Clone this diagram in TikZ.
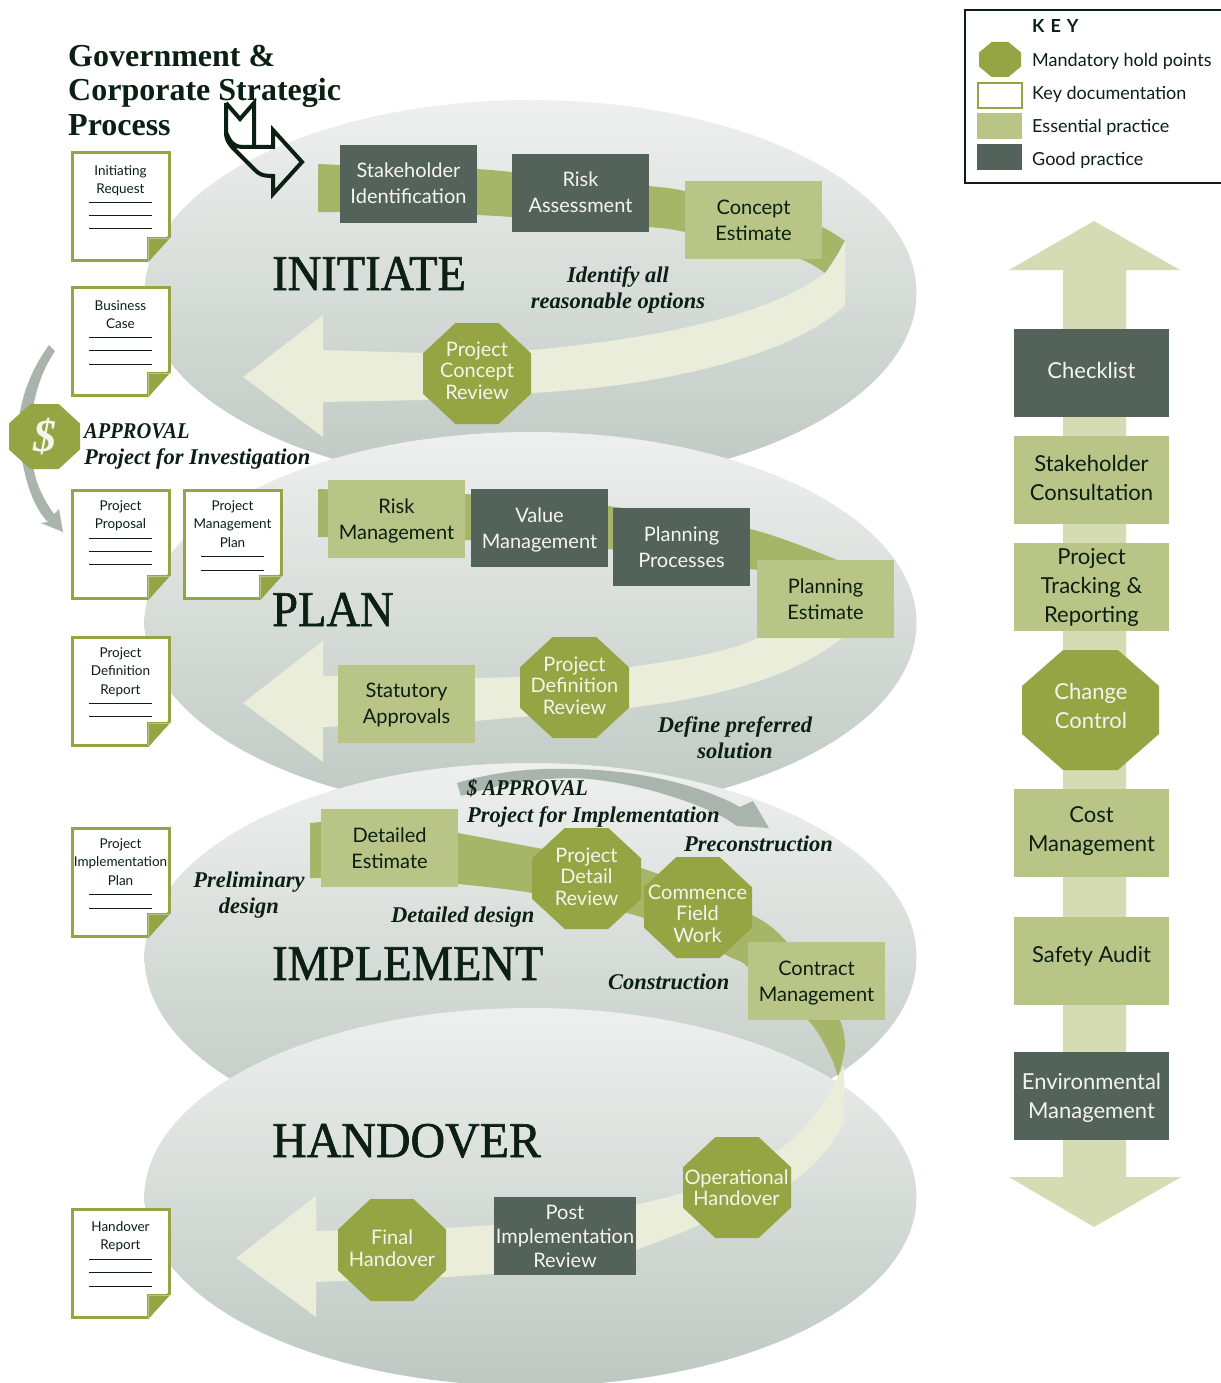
\documentclass[tikz,border=0pt]{standalone}
\usepackage{fontspec}
\setmainfont{Liberation Serif}
\newfontfamily\lato{Lato}
\newfontfamily\headfont[FakeBold=1.2,FakeStretch=0.93]{Liberation Serif}
\newfontfamily\capsfont[FakeStretch=0.91]{Liberation Serif}
\usetikzlibrary{shapes.geometric}
\definecolor{ink}{HTML}{0B1F12}
\definecolor{slate}{HTML}{54635A}
\definecolor{sage}{HTML}{B9C487}
\definecolor{olive}{HTML}{95A544}
\definecolor{ribbon}{HTML}{A6B568}
\definecolor{pale}{HTML}{E9EDDA}
\definecolor{stem}{HTML}{D5DBB3}
\definecolor{cream}{HTML}{F4F5EC}
\definecolor{ellT}{HTML}{EEF0EF}
\definecolor{ellB}{HTML}{BEC8C2}
\definecolor{steel}{HTML}{A9B4AD}
\tikzset{
  dark/.style={fill=slate,text=cream},
  light/.style={fill=sage,text=ink},
  small/.style={font=\lato\fontsize{20}{26}\selectfont},
  big/.style={font=\lato\fontsize{22}{29}\selectfont},
  octtext/.style={font=\lato\fontsize{20}{21.5}\selectfont,text=cream,align=center,inner sep=0pt},
  doctext/.style={font=\lato\fontsize{13.5}{18.3}\selectfont,text=ink,align=center,inner sep=0pt,anchor=north},
  heading/.style={font=\headfont\fontsize{50}{50}\selectfont,text=ink,anchor=base west,inner sep=0pt},
  note/.style={font=\bfseries\itshape\fontsize{22.5}{26}\selectfont,text=ink,inner sep=0pt,align=center},
  keytext/.style={font=\lato\fontsize{18}{22}\selectfont,text=ink,anchor=base west,inner sep=0pt},
  ell/.style={top color=ellT,bottom color=ellB,draw=none},
}
% [text shift], name, x1, y1, x2, y2, style+size, text
\newcommand{\rbox}[8][]{\path[#7] (#3,#4) rectangle (#5,#6);
  \node[#7,fill=none,inner sep=0pt,outer sep=0pt,align=center,#1] (#2) at ({(#3+#5)/2},{(#4+#6)/2}) {#8};}
% name, x1, y1, x2, y2, font extra, text
\newcommand{\octa}[7]{\fill[olive] ({#2+0.3*(#4-#2)},#3) -- ({#4-0.3*(#4-#2)},#3) -- (#4,{#3+0.3*(#5-#3)}) -- (#4,{#5-0.3*(#5-#3)})
  -- ({#4-0.3*(#4-#2)},#5) -- ({#2+0.3*(#4-#2)},#5) -- (#2,{#5-0.3*(#5-#3)}) -- (#2,{#3+0.3*(#5-#3)}) -- cycle;
  \node[octtext,#6] (#1) at ({(#2+#4)/2},{(#3+#5)/2}) {#7};}
% [text shift], name, x, y, text, rule offsets
\newcommand{\docu}[6][]{
  \filldraw[draw=olive,fill=white,line width=2.6pt] (#3+1.5,#4+1.5) -- (#3+98.5,#4+1.5) -- (#3+98.5,#4+85) -- (#3+77,#4+109.5) -- (#3+1.5,#4+109.5) -- cycle;
  \fill[olive] (#3+76,#4+86) -- (#3+100,#4+86) -- (#3+77,#4+111) -- (#3+76,#4+111) -- cycle;
  \draw[sage,line width=1pt] (#3+77,#4+110) -- (#3+77,#4+87) -- (#3+99,#4+87);
  \node[doctext,#1] (#2) at (#3+49.5,#4+12.5) {#5};
  \foreach \r in {#6} {\draw[ink,line width=0.8pt] (#3+18,#4+\r) -- (#3+81,#4+\r);}
}
\begin{document}
\begin{tikzpicture}[x=1pt,y=-1pt]
\useasboundingbox (0,0) rectangle (1220,1383);
\fill[white] (0,0) rectangle (1220,1383);

% ---------- INITIATE
\path[ell] (530.5,293) ellipse [x radius=386,y radius=193];
\fill[ribbon] (318,164) -- (340,165) -- plot[smooth] coordinates {(477,169) (512,172) (649,186) (685,191) (780,212) (822,227) (845,241)}
  -- (837,255) -- (825,273) -- plot[smooth] coordinates {(825,273) (800,259) (740,245) (685,232) (649,227) (512,217) (477,215)} -- (340,212) -- (318,212) -- cycle;
\fill[pale] (845,241) -- (845,305) .. controls (800,350) and (680,385) .. (532,393) -- (423,400) -- (323,402) -- (323,437) -- (243,377) -- (323,315) -- (323,350)
  -- (423,353) -- (532,350) .. controls (660,338) and (770,315) .. (825,273) .. controls (835,262) and (840,250) .. (845,241) -- cycle;

% ---------- PLAN
\path[ell] (530.5,623) ellipse [x radius=386,y radius=191];
\fill[ribbon] (318,489) -- (465,494) -- plot[smooth] coordinates {(465,494) (608,506) (750,529) (837,560)} -- (757,570) -- plot[smooth] coordinates {(757,570) (750,569) (608,549) (465,540)} -- (318,537) -- cycle;
\fill[pale] (842,638) .. controls (790,680) and (710,698) .. (629,708) -- (520,717) -- (475,721) -- (323,727) -- (323,762) -- (243,703) -- (323,641) -- (323,676) -- (475,678) -- (520,677) -- (629,667) .. controls (680,660) and (730,652) .. (757,638) -- cycle;

% ---------- IMPLEMENT
\path[ell] (530.5,957) ellipse [x radius=386,y radius=194];
\fill[steel] (457,783) .. controls (500,770) and (540,768) .. (573,769) .. controls (640,770) and (700,785) .. (740,807) -- (753,801) -- (769,828) -- (737,826) -- (725,818) .. controls (680,795) and (620,780) .. (575,778) .. controls (530,778) and (490,787) .. (461,796) -- cycle;

% ---------- HANDOVER
\path[ell] (530.5,1197) ellipse [x radius=386,y radius=189];
\fill[ribbon] (310,823) -- (321,822) -- (321,878) -- (310,878) -- cycle;
\fill[ribbon] (321,825) -- (458,833) -- plot[smooth] coordinates {(458,833) (532,847) (641,868) (752,915) (787,942) (820,985) (840,1020) (845,1047) (838,1077)}
  -- plot[smooth] coordinates {(838,1077) (830,1055) (808,1020)  (748,967) (730,957) (641,917) (532,893) (458,884)} -- (321,878) -- cycle;
\fill[pale] (844,1065) -- (844,1123) .. controls (830,1150) and (810,1170) .. (791,1183) -- (683,1232) -- (636,1250) .. controls (590,1265) and (530,1272) .. (446,1277) -- (316,1282) -- (316,1317) -- (236,1258) -- (316,1196) -- (316,1231) -- (446,1228) -- (494,1225) .. controls (570,1220) and (620,1210) .. (683,1193) -- (779,1150) .. controls (805,1130) and (825,1105) .. (838,1077) -- cycle;

% ---------- approval arrow on the left
\fill[steel] (49,345) .. controls (20,385) and (12,430) .. (23,465) .. controls (28,490) and (36,510) .. (48,522) -- (41,523) -- (63,532) -- (59,509) -- (54,514) .. controls (44,500) and (36,485) .. (33,465) .. controls (27,430) and (32,385) .. (55,351) -- cycle;

% ---------- process boxes
\rbox[yshift=1pt]{a1}{340}{145}{477}{223}{dark,small}{Stakeholder\\Identification}
\rbox[yshift=0.5pt]{a2}{512}{154}{649}{232}{dark,small}{Risk\\Assessment}
\rbox{a3}{685}{181}{822}{259}{light,small}{Concept\\Estimate}
\rbox[yshift=-2pt]{b1}{328}{480}{465}{558}{light,small}{Risk\\Management}
\rbox[yshift=-2pt]{b2}{471}{489}{608}{567}{dark,small}{Value\\Management}
\rbox{b3}{613}{508}{750}{586}{dark,small}{Planning\\Processes}
\rbox{b4}{757}{560}{894}{638}{light,small}{Planning\\Estimate}
\rbox[yshift=-1pt]{b5}{338}{665}{475}{743}{light,small}{Statutory\\Approvals}
\rbox{c1}{321}{809}{458}{887}{light,small}{Detailed\\Estimate}
\rbox[yshift=-2pt]{c2}{748}{942}{885}{1020}{light,small}{Contract\\Management}
\rbox{d1}{494}{1197}{636}{1275}{dark,font=\lato\fontsize{20}{24}\selectfont}{Post\\Implementation\\Review}

\octa{oa}{423}{323}{531}{424}{yshift=3pt}{Project\\Concept\\Review}
\octa{ob}{520}{637}{629}{738}{yshift=2pt}{Project\\Definition\\Review}
\octa{oc}{532}{828}{641}{929}{yshift=2pt}{Project\\Detail\\Review}
\octa{od}{644}{857}{752}{958}{yshift=-6pt,xshift=-0.5pt}{Commence\\Field\\Work}
\octa{oe}{683}{1137}{791}{1238}{xshift=-0.5pt}{Operational\\Handover}
\octa{of}{338}{1199}{446}{1301}{yshift=2pt}{Final\\Handover}
\octa{og}{9}{404}{80}{469}{font=\bfseries\itshape\fontsize{46}{46}\selectfont}{\$}

% ---------- right-hand column
\fill[stem] (1094,221) -- (1180,270) -- (1126,270) -- (1126,1177) -- (1181,1177) -- (1094,1227) -- (1009,1177) -- (1063,1177) -- (1063,270) -- (1009,270) -- cycle;
\rbox[yshift=3pt]{r1}{1014}{329}{1169}{417}{dark,big}{Checklist}
\rbox[yshift=2pt]{r2}{1014}{436}{1169}{524}{light,big}{Stakeholder\\Consultation}
\rbox{r3}{1014}{543}{1169}{631}{light,big}{Project\\Tracking \&\\Reporting}
\octa{r4}{1022}{650}{1159}{770}{font=\lato\fontsize{22}{29}\selectfont,yshift=4pt,xshift=0.5pt}{Change\\Control}
\rbox[yshift=2pt]{r5}{1014}{789}{1169}{877}{light,big}{Cost\\Management}
\rbox[yshift=5pt]{r6}{1014}{917}{1169}{1005}{light,big}{Safety Audit}
\rbox[yshift=-2pt]{r7}{1014}{1052}{1169}{1140}{dark,big}{Environmental\\Management}

% ---------- key
\draw[ink,line width=2pt,fill=white] (965,10) rectangle (1225,183);
\node[keytext,font=\lato\bfseries\fontsize{18}{20}\selectfont] (ktitle) at (1032,33) {K\,\,E\,\,Y};
\octa{k1}{979}{42}{1021}{77}{}{}
\draw[olive,line width=2.4pt,fill=white] (978,83) rectangle (1022,108);
\fill[sage] (977,113) rectangle (1022,139);
\fill[slate] (977,144) rectangle (1022,170);
\node[keytext] (k1t) at (1032,67) {Mandatory hold points};
\node[keytext] (k2t) at (1032,100) {Key documentation};
\node[keytext] (k3t) at (1032,133) {Essential practice};
\node[keytext] (k4t) at (1032,166) {Good practice};

% ---------- documents
\docu[yshift=-1.5pt]{d1a}{71}{151}{Initiating\\Request}{51,64,77}
\docu[yshift=-1.5pt]{d2a}{71}{286}{Business\\Case}{51,64,78}
\docu[yshift=1pt]{d3a}{71}{489}{Project\\Proposal}{49,62,75}
\docu[yshift=1pt]{d4a}{183}{489}{Project\\Management\\Plan}{67,81}
\docu[yshift=1pt]{d5a}{71}{636}{Project\\Definition\\Report}{67,80}
\docu[yshift=1pt]{d6a}{71}{827}{Project\\Implementation\\Plan}{67,81}
\docu[yshift=-1pt]{d7a}{71}{1208}{Handover\\Report}{51,64,78}

% ---------- headings
\node[heading] (h1) at (272,290) {INITIATE};
\node[heading] (h2) at (272,626) {PLAN};
\node[heading] (h3) at (272,980) {IMPLEMENT};
\node[heading,xscale=1.03] (h4) at (272,1157) {HANDOVER};

% ---------- title and notes
\node[font=\bfseries\fontsize{32}{34.5}\selectfont,text=ink,align=left,anchor=north west,inner sep=0pt] (title) at (68,45) {Government \&\\Corporate Strategic\\Process};
\node[note,anchor=base west,font=\capsfont\bfseries\itshape\fontsize{22.5}{26}\selectfont] (n1a) at (84,438) {APPROVAL};
\node[note,anchor=base west] (n1b) at (84,464) {Project for Investigation};
\node[note] (n2) at (618,290) {Identify all\\reasonable options};
\node[note] (n3) at (735,738) {Define preferred\\solution};
\node[note,anchor=base west,font=\capsfont\bfseries\itshape\fontsize{22.5}{26}\selectfont] (n4a) at (467,795) {\$ APPROVAL};
\node[note,anchor=base west] (n4b) at (467,822) {Project for Implementation};
\node[note,anchor=base west] (n5) at (684,851) {Preconstruction};
\node[note,anchor=base west] (n6) at (608,989) {Construction};
\node[note,anchor=base west] (n7) at (391,922) {Detailed design};
\node[note] (n8) at (249,895) {Preliminary\\design};

% ---------- entry chevron
\draw[ink,line width=4pt,line join=miter,fill=none] (226,103) -- (240,119) -- (254,103) -- (254,147);
\draw[ink,line width=4pt,line join=miter] (226,103) -- (226,132) .. controls (226,140) and (229,143) .. (232,147) -- (255,170) .. controls (259,174) and (262,176) .. (273,176) -- (273,194) -- (302,162) -- (273,130) -- (273,147) -- (242,147) .. controls (235,147) and (230,143) .. (226,132);
\end{tikzpicture}
\end{document}
